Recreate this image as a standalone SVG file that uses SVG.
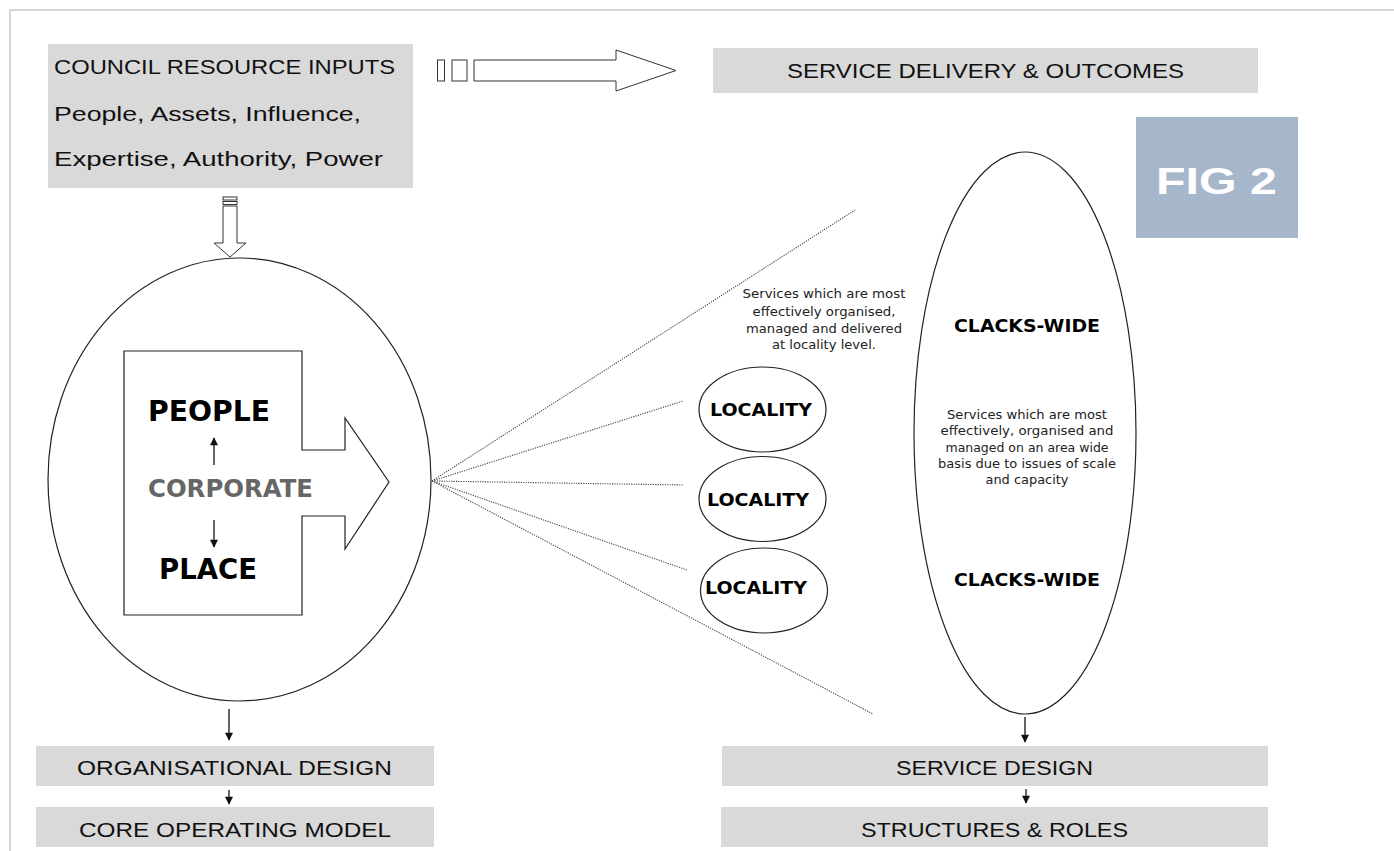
<svg xmlns="http://www.w3.org/2000/svg" width="1394" height="851" viewBox="0 0 1394 851">
<defs>
<style>
.box{fill:#d9d9d9;stroke:none}
.lbl{font-family:"Liberation Sans",Arial,sans-serif;font-size:20px;fill:#111}
.bold{font-family:"DejaVu Sans","Liberation Sans",sans-serif;font-weight:bold;fill:#000}
.small{font-family:"DejaVu Sans","Liberation Sans",sans-serif;font-size:13px;fill:#222}
.outline{fill:#fff;stroke:#222;stroke-width:1.2}
.hollow{fill:#fff;stroke:#333;stroke-width:1}
.dot{stroke:#444;stroke-width:1.1;stroke-dasharray:1.2 1.2;fill:none}
.arr{stroke:#111;stroke-width:1.3;fill:none;marker-end:url(#ah)}
</style>
<marker id="ah" viewBox="0 0 10 10" refX="9" refY="5" markerWidth="9" markerHeight="8" markerUnits="userSpaceOnUse" orient="auto">
<path d="M0,0 L10,5 L0,10 Z" fill="#111"/>
</marker>
</defs>
<rect width="1394" height="851" fill="#fff"/>
<path d="M10,851 V10 H1394" fill="none" stroke="#c8c8c8" stroke-width="1.5"/>

<g id="council-inputs">
<rect class="box" x="48" y="44" width="365" height="144"/>
<text class="lbl" x="54" y="74" textLength="341" lengthAdjust="spacingAndGlyphs">COUNCIL RESOURCE INPUTS</text>
<text class="lbl" x="54" y="121" textLength="307" lengthAdjust="spacingAndGlyphs">People, Assets, Influence,</text>
<text class="lbl" x="54" y="166" textLength="329" lengthAdjust="spacingAndGlyphs">Expertise, Authority, Power</text>
</g>

<g id="service-delivery">
<rect class="box" x="713" y="48" width="545" height="45"/>
<text class="lbl" x="787" y="78" textLength="397" lengthAdjust="spacingAndGlyphs">SERVICE DELIVERY &amp; OUTCOMES</text>
</g>

<g id="fig2">
<rect x="1136" y="117" width="162" height="121" fill="#a6b6cb"/>
<text x="1156" y="194" font-family="Liberation Sans,Arial,sans-serif" font-weight="bold" font-size="36" fill="#fff" textLength="121" lengthAdjust="spacingAndGlyphs">FIG 2</text>
</g>

<g id="corporate-circle">
<ellipse class="outline" cx="239.5" cy="479.5" rx="191.5" ry="221.5"/>
<path class="outline" d="M124,351 H302 V450 H345 V418 L389,482 L345,549 V516 H302 V615 H124 Z"/>
<text class="bold" x="148" y="421" font-size="28" textLength="122" lengthAdjust="spacingAndGlyphs">PEOPLE</text>
<text class="bold" x="148" y="497" font-size="24" style="fill:#666" textLength="165" lengthAdjust="spacingAndGlyphs">CORPORATE</text>
<text class="bold" x="159" y="579" font-size="28" textLength="98" lengthAdjust="spacingAndGlyphs">PLACE</text>
</g>

<g id="locality-text">
<text class="small" text-anchor="middle" x="824" y="298" textLength="163" lengthAdjust="spacingAndGlyphs">Services which are most</text>
<text class="small" text-anchor="middle" x="824" y="315.5" textLength="143" lengthAdjust="spacingAndGlyphs">effectively organised,</text>
<text class="small" text-anchor="middle" x="824" y="333" textLength="156" lengthAdjust="spacingAndGlyphs">managed and delivered</text>
<text class="small" text-anchor="middle" x="824" y="349" textLength="104" lengthAdjust="spacingAndGlyphs">at locality level.</text>
</g>

<g id="locality-1">
<ellipse class="outline" cx="762.5" cy="409.5" rx="63.5" ry="42.5"/>
<text class="bold" x="710" y="416" font-size="18" textLength="102" lengthAdjust="spacingAndGlyphs">LOCALITY</text>
</g>
<g id="locality-2">
<ellipse class="outline" cx="762.5" cy="499" rx="63.5" ry="42.5"/>
<text class="bold" x="707" y="506" font-size="18" textLength="102" lengthAdjust="spacingAndGlyphs">LOCALITY</text>
</g>
<g id="locality-3">
<ellipse class="outline" cx="764" cy="590.5" rx="63.5" ry="42.5"/>
<text class="bold" x="705" y="594" font-size="18" textLength="102" lengthAdjust="spacingAndGlyphs">LOCALITY</text>
</g>

<g id="clacks-wide">
<ellipse class="outline" cx="1025" cy="433" rx="111" ry="281"/>
<text class="bold" x="954" y="332" font-size="18" textLength="146" lengthAdjust="spacingAndGlyphs">CLACKS-WIDE</text>
<text class="small" text-anchor="middle" x="1027" y="419" textLength="160" lengthAdjust="spacingAndGlyphs">Services which are most</text>
<text class="small" text-anchor="middle" x="1027" y="435" textLength="173" lengthAdjust="spacingAndGlyphs">effectively, organised and</text>
<text class="small" text-anchor="middle" x="1027" y="451.5" textLength="163" lengthAdjust="spacingAndGlyphs">managed on an area wide</text>
<text class="small" text-anchor="middle" x="1027" y="467.5" textLength="178" lengthAdjust="spacingAndGlyphs">basis due to issues of scale</text>
<text class="small" text-anchor="middle" x="1027" y="483.5" textLength="83" lengthAdjust="spacingAndGlyphs">and capacity</text>
<text class="bold" x="954" y="586" font-size="18" textLength="146" lengthAdjust="spacingAndGlyphs">CLACKS-WIDE</text>
</g>

<g id="org-design">
<rect class="box" x="36" y="746" width="398" height="40"/>
<text class="lbl" x="77" y="775" textLength="315" lengthAdjust="spacingAndGlyphs">ORGANISATIONAL DESIGN</text>
</g>
<g id="core-model">
<rect class="box" x="36" y="807" width="398" height="40"/>
<text class="lbl" x="79" y="837" textLength="312" lengthAdjust="spacingAndGlyphs">CORE OPERATING MODEL</text>
</g>
<g id="service-design">
<rect class="box" x="722" y="746" width="546" height="40"/>
<text class="lbl" x="896" y="775" textLength="197" lengthAdjust="spacingAndGlyphs">SERVICE DESIGN</text>
</g>
<g id="structures-roles">
<rect class="box" x="721" y="807" width="547" height="40"/>
<text class="lbl" x="861" y="837" textLength="267" lengthAdjust="spacingAndGlyphs">STRUCTURES &amp; ROLES</text>
</g>

<g id="connectors">
<rect class="hollow" x="437.5" y="60" width="7" height="21"/>
<rect class="hollow" x="452" y="60" width="15" height="21"/>
<path class="hollow" d="M474,60 H616 V50 L676,70.5 L616,91 V81 H474 Z"/>
<rect class="hollow" x="223" y="197" width="14" height="3"/>
<rect class="hollow" x="223" y="201.5" width="14" height="3"/>
<path class="hollow" d="M223,206 H237 V243 H246 L230,257 L214,243 H223 Z"/>
<line class="arr" x1="214" y1="465" x2="214" y2="438"/>
<line class="arr" x1="214" y1="520" x2="214" y2="547"/>
<line class="dot" x1="432" y1="481" x2="855" y2="210"/>
<line class="dot" x1="432" y1="481" x2="683" y2="401"/>
<line class="dot" x1="432" y1="481" x2="683" y2="485"/>
<line class="dot" x1="432" y1="481" x2="687" y2="570"/>
<line class="dot" x1="432" y1="481" x2="873" y2="714"/>
<line class="arr" x1="229" y1="709" x2="229" y2="740"/>
<line class="arr" x1="229" y1="790" x2="229" y2="804"/>
<line class="arr" x1="1025" y1="717" x2="1025" y2="742"/>
<line class="arr" x1="1026" y1="789" x2="1026" y2="803"/>
</g>
</svg>
